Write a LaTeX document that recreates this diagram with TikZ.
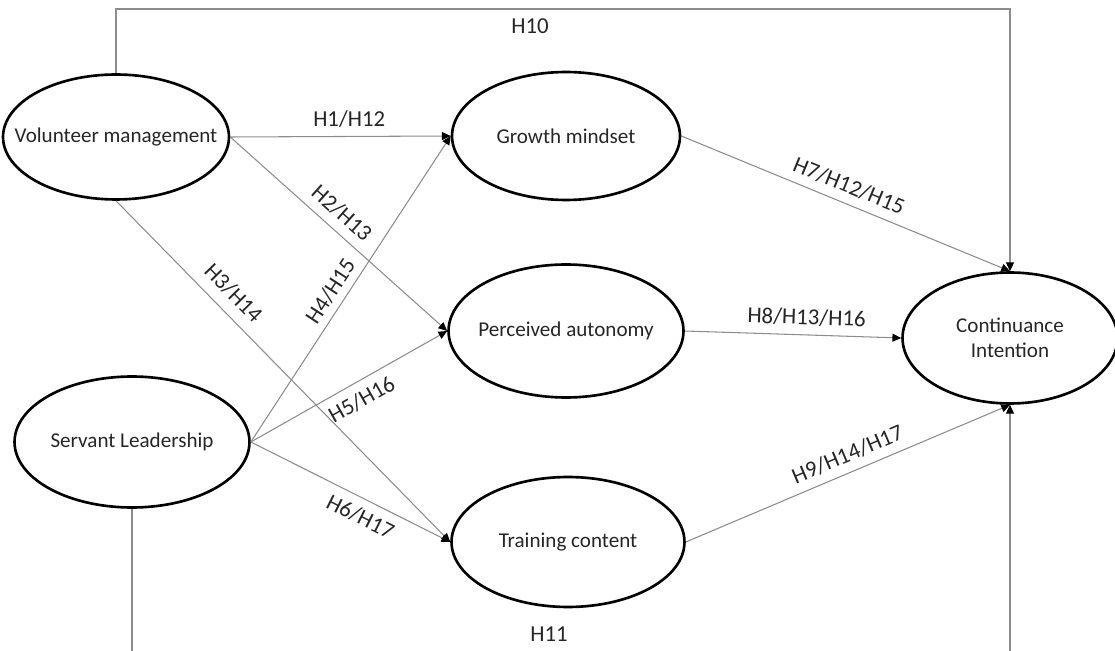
\documentclass[tikz,border=0pt]{standalone}
\usepackage{fontspec}
\setmainfont{Carlito}
\usepackage{tikz}
\usetikzlibrary{shapes.geometric,arrows.meta,positioning,calc}
\newcommand{\nowidth}[1]{\makebox[0pt]{#1}}

\begin{document}
\begin{tikzpicture}[x=0.02cm, y=-0.02cm,
  every node/.style={font=\fontsize{12}{14}\selectfont, text=black!85},
  construct/.style={ellipse, draw=black, line width=1.5pt, inner sep=0pt, align=center},
  hyp/.style={draw=black!45, line width=0.6pt, -{Triangle[length=5pt,width=4.5pt,black]}},
  lbl/.style={sloped, inner sep=2pt, font=\fontsize{13}{15}\selectfont}]
\useasboundingbox (0,0) rectangle (1115,651);
\node[construct, minimum width=4.52cm, minimum height=2.5cm] (vm) at (116,137) {\nowidth{Volunteer management}};
\node[construct, minimum width=4.7cm, minimum height=2.62cm] (sl) at (132,442) {\nowidth{Servant Leadership}};
\node[construct, minimum width=4.56cm, minimum height=2.56cm] (gm) at (566,136) {\nowidth{Growth mindset}};
\node[construct, minimum width=4.7cm, minimum height=2.66cm] (pa) at (566,331) {\nowidth{Perceived autonomy}};
\node[construct, minimum width=4.66cm, minimum height=2.6cm] (tc) at (568,542) {\nowidth{Training content}};
\node[construct, minimum width=4.3cm, minimum height=2.62cm] (ci) at (1010,338) {\nowidth{Continuance}\\\nowidth{Intention}};
\coordinate (h10) at (530,9);
\coordinate (h11) at (549,658);
% paths from volunteer management
\draw[hyp] (vm.east) -- node[lbl, above=3pt, pos=0.54] {H1/H12} (gm.west);
\draw[hyp] (vm.east) -- node[lbl, above=3pt, pos=0.46] {H2/H13} (pa.west);
\draw[hyp] (vm.south) -- node[lbl, above=4pt, pos=0.31] {H3/H14} (tc.west);
% paths from servant leadership
\draw[hyp] (sl.east) -- node[lbl, above=2pt, pos=0.465] {H4/H15} (gm.west);
\draw[hyp] (sl.east) -- node[lbl, below=3pt, pos=0.52] {H5/H16} (pa.west);
\draw[hyp] (sl.east) -- node[lbl, below=3pt, pos=0.59] {H6/H17} (tc.west);
% mediators to continuance intention
\draw[hyp] (gm.east) -- node[lbl, above=3pt, pos=0.49] {H7/H12/H15} (ci.north);
\draw[hyp] (pa.east) -- node[lbl, above=3pt, pos=0.56] {H8/H13/H16} (ci.west);
\draw[hyp] (tc.east) -- node[lbl, above=3pt, pos=0.52] {H9/H14/H17} (ci.south);
% direct effects
\draw[hyp] (vm.north) |- (h10) node[below=3pt, lbl] {H10} -| (ci.north);
\draw[hyp] (sl.south) |- (h11) node[above=7pt, lbl] {H11} -| (ci.south);
\end{tikzpicture}
\end{document}
